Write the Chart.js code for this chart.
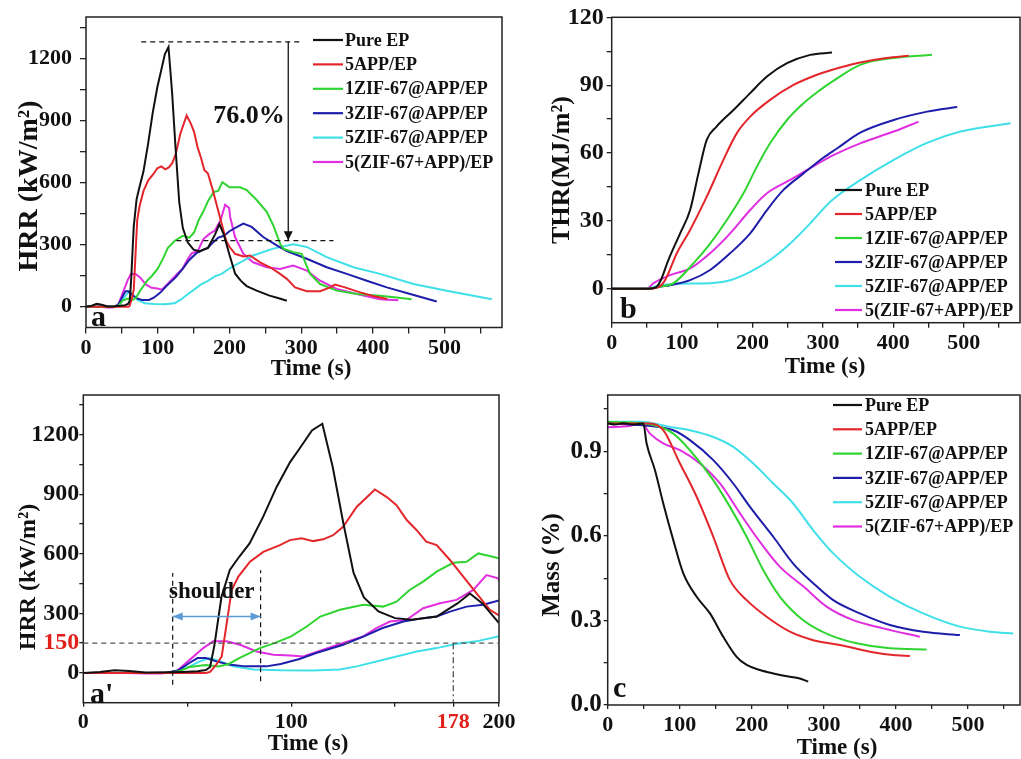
<!DOCTYPE html>
<html><head><meta charset="utf-8">
<script src="https://cdn.jsdelivr.net/npm/chart.js@4.4.1/dist/chart.umd.min.js"></script>
<style>
html,body{margin:0;padding:0;background:#fff;overflow:hidden;width:1021px;height:759px}
canvas{position:absolute}
</style></head><body>
<canvas id="cA" width="515" height="380" style="left:0;top:0"></canvas>
<canvas id="cB" width="506" height="380" style="left:515px;top:0"></canvas>
<canvas id="cA2" width="515" height="379" style="left:0;top:380px"></canvas>
<canvas id="cC" width="506" height="379" style="left:515px;top:380px"></canvas>
<script>
// ---------- series ----------
const seriesNames = ['Pure EP','5APP/EP','1ZIF-67@APP/EP','3ZIF-67@APP/EP','5ZIF-67@APP/EP','5(ZIF-67+APP)/EP'];
const seriesColors = ['#111111','#e3262b','#30d430','#1e1eaa','#3fe0e8','#e02ee0'];

// HRR (kW/m2) vs time (s)
const hrrPureEP = [[0,0],[8,5],[15,14],[22,10],[30,2],[40,3],[48,5],[55,8],[59,15],[61,30],[63,134],[66.5,385],[70.5,519],[75,585],[80,652],[86.5,786],[93,937],[99.5,1062],[104,1129],[110,1221],[115,1255],[120,1037],[125,760],[130,505],[135,380],[142,310],[150,276],[158,268],[170,284],[180,350],[186,400],[192,350],[200,251],[208,160],[216,125],[224,100],[238,78],[256,54],[270,40],[280,29]];
const hrr5APP = [[0,0],[20,0],[40,0],[50,0],[59,0],[61,5],[64,42],[66.6,83],[69,251],[71.4,418],[74.6,485],[80.2,560],[86.6,610],[94.6,644],[99.4,669],[105,678],[110.6,664],[115.4,673],[120.2,694],[125,736],[131.5,836],[140.3,924],[146,886],[150.7,845],[155.6,770],[160.4,719],[165,661],[170,644],[176.4,569],[182.8,485],[189.2,401],[195.6,318],[200,290],[207.8,256],[219.4,243],[228.7,248],[242.7,215],[256.6,191],[270.6,159],[280,135],[291.5,94],[307.8,75],[326.4,75],[340.3,94],[347,107],[360,95],[380,72],[400,52],[420,38]];
const hrr1ZIF = [[0,0],[20,0],[40,0],[46,8],[51,30],[59,40],[65,33],[70,45],[75,75],[85,125],[92,150],[100,184],[107.5,234],[114,284],[123.5,318],[134.7,343],[144.3,334],[150.7,359],[157,418],[163.5,460],[170,510],[178,555],[184.4,560],[190,602],[195,590],[200,577],[214.8,577],[224,564],[238,516],[252,459],[261,394],[270.6,305],[275,281],[289,264],[300.8,256],[312.4,159],[326.4,110],[349.7,78],[377.6,62],[410,53],[433,45],[454,37]];
const hrr3ZIF = [[0,0],[20,0],[40,0],[46,15],[51,50],[55,75],[59,75],[64,58],[70,42],[78,33],[88,33],[95,45],[104,70],[112,100],[125,142],[135,184],[144,226],[154,259],[163.5,276],[170,284],[176.4,309],[184.4,334],[192.4,343],[200,365],[210,385],[219.4,402],[231,386],[247,337],[266,297],[280,269],[307.8,232],[335.6,191],[363.6,159],[391.5,126],[419.4,94],[452,62],[489,26]];
const hrr5ZIF = [[0,0],[20,0],[40,0],[46,10],[51.3,33],[56,58],[61,75],[66,58],[72,33],[82,17],[95,13],[110,12],[123.5,17],[131.5,33],[141,58],[150.7,83],[160.4,108],[170,125],[179.6,147],[189.2,159],[200,185],[210,205],[233,248],[261,281],[289,302],[307.8,289],[335.6,240],[372.8,191],[410,159],[456.5,110],[503,78],[540,53],[565.8,37]];
const hrrMix = [[0,0],[20,0],[30,-3],[38,-3],[45,10],[51.3,67],[57.7,125],[62.5,159],[69,159],[75.4,142],[83.4,108],[91.4,92],[99.4,88],[105.8,83],[115.4,117],[125,151],[134.7,184],[141,226],[147.5,259],[155.6,268],[163.5,326],[171.6,351],[179.6,368],[187.6,418],[194,493],[199.6,477],[201,434],[207.8,337],[219.4,256],[233,215],[252,191],[270.6,183],[289,199],[307.8,175],[326.4,126],[349.7,86],[377.6,62],[410,37],[435.5,32]];

// THR (MJ/m2) vs time (s)
const thrPureEP = [[0,0],[50,0],[62,0.5],[68.7,3.1],[80.5,12.7],[97.2,24.5],[111.4,34.8],[123.2,51],[135,65.8],[149,71.7],[173,79],[196.7,86.5],[220.5,93.8],[249,99.7],[282,103.4],[313,104.4]];
const thr5APP = [[0,0],[50,0],[65,0.5],[75.8,3.8],[92.5,15.7],[111.4,26],[135,40.7],[158.7,57],[177.8,68.8],[196.7,76.1],[225,83.5],[258.3,90.1],[291.6,94.6],[310,96.5],[353,100],[390,102],[422,103]];
const thr1ZIF = [[0,0],[50,0],[70,1],[87.6,2.4],[116,11.2],[139.8,20],[163.6,30.4],[187.2,42.2],[206.3,54],[225,64.3],[249,74.6],[272.5,82],[296.3,87.9],[310.5,91],[353,99],[400.6,102],[455,103.4]];
const thr3ZIF = [[0,0],[50,0],[70,1],[83,1.6],[111.4,3.8],[139.8,8.3],[168.3,15.7],[196.7,24.5],[220.5,34.8],[244,43.7],[272.5,51],[301,58],[320,62],[353,69],[400.6,74.6],[448,78.3],[490.8,80.3]];
const thr5ZIF = [[0,0],[50,0],[62,1],[92.5,2.2],[139.8,2.4],[168.3,3.8],[196.7,7.5],[225,12.7],[253.6,20],[282,28.9],[310.5,38.5],[353,48],[400.6,57],[448,64.5],[495.4,69.5],[566.6,73.2]];
const thrMix = [[0,0],[50,0],[59,2.4],[83,6],[111.4,9],[139.8,15.7],[168.3,24.5],[196.7,34.8],[220.5,42.2],[253.6,48.1],[282,53.3],[310.5,58.4],[353,64.3],[400.6,69.5],[436,73.9]];

// Mass (fraction) vs time (s)
const massPureEP = [[0,1.0],[10,0.995],[21.7,1.0],[35,0.995],[49.4,0.999],[54,0.928],[65.6,0.833],[77.1,0.715],[91,0.585],[104.9,0.467],[123.4,0.384],[141.9,0.325],[160.3,0.242],[178.9,0.171],[192.8,0.142],[211.2,0.124],[229.7,0.112],[252.8,0.1],[265,0.095],[278.2,0.083]];
const mass5APP = [[0,0.999],[58.7,0.999],[77.1,0.975],[100.3,0.857],[123.4,0.739],[146.5,0.597],[169.6,0.443],[192.8,0.372],[220.5,0.313],[252.8,0.26],[285.2,0.23],[322.2,0.213],[363.8,0.189],[396.1,0.177],[419.3,0.174]];
const mass1ZIF = [[0,1.005],[60,0.995],[91,0.963],[114.1,0.904],[146.5,0.798],[169.6,0.703],[192.8,0.597],[215.8,0.479],[239,0.384],[271.3,0.301],[308.3,0.248],[345.4,0.219],[391.5,0.201],[442.4,0.197]];
const mass3ZIF = [[0,1.0],[60,0.99],[91,0.975],[114.1,0.94],[146.5,0.869],[174.2,0.786],[197.4,0.703],[229.7,0.597],[257.3,0.502],[285.2,0.432],[312.9,0.372],[349.9,0.325],[391.5,0.284],[437.7,0.26],[488.6,0.248]];
const mass5ZIF = [[0,1.005],[44.8,1.005],[91,0.985],[114.1,0.975],[146.5,0.951],[174.2,0.916],[202,0.857],[229.7,0.786],[257.3,0.715],[285.2,0.62],[312.9,0.538],[349.9,0.455],[391.5,0.384],[437.7,0.325],[488.6,0.278],[530.2,0.26],[562.6,0.254]];
const massMix = [[0,0.986],[30,0.99],[46.7,1.0],[58.7,0.963],[77.1,0.928],[100.3,0.904],[128,0.857],[155.8,0.786],[183.5,0.68],[211.2,0.579],[239,0.49],[271.3,0.421],[303.7,0.349],[340.6,0.301],[382.2,0.272],[433.1,0.242]];

// ---------- ticks ----------
const hrrTicks = [0,150,300,450,600,750,900,1050,1200,1350];
const hrrMajor = [0,300,600,900,1200];
const hrrZoomMajor = [0,150,300,600,900,1200];
const timeTicks = [0,50,100,150,200,250,300,350,400,450,500,550];
const timeMajor = [0,100,200,300,400,500];
const timeZoomTicks = [0,50,100,150,178,200];
const timeZoomMajor = [0,100,178,200];
const thrTicks = [0,15,30,45,60,75,90,105,120];
const thrMajor = [0,30,60,90,120];
const massTicks = [0,0.15,0.3,0.45,0.6,0.75,0.9,1.05];
const massMajor = [0,0.3,0.6,0.9];
const highlightHRR = 150, highlightTime = 178;

const FONT = '"Liberation Serif", "Times New Roman", serif';
const RED = '#e0201b';

function sets(list, tension){
  return list.map((d,i)=>({label:seriesNames[i], data:d, borderColor:seriesColors[i], backgroundColor:seriesColors[i],
    borderWidth:2, pointRadius:0, tension:tension||0, cubicInterpolationMode: tension? 'monotone':'default'}));
}

function axis(min,max,ticks,major,o){
  return {
    type:'linear', min:min, max:max,
    afterBuildTicks: s => { s.ticks = ticks.map(v=>({value:v})); },
    afterFit: s => { if(o.w!=null) s.width=o.w; if(o.h!=null) s.height=o.h; s.paddingLeft=0; s.paddingRight=0; s.paddingTop=0; s.paddingBottom=0; },
    grid:{drawOnChartArea:false, drawTicks:true, tickLength:o.tl, color:'#222', lineWidth:1.3},
    border:{display:false},
    ticks:{autoSkip:false, maxRotation:0, minRotation:0, padding:o.pad,
      color: c => (o.hl!=null && c.tick && c.tick.value===o.hl) ? RED : '#111',
      font:{family:FONT, weight:'bold', size:o.fs},
      callback: v => major.includes(v) ? (o.fmt? o.fmt(v) : String(v)) : ''}
  };
}

const framePlugin = {id:'frame', afterDatasetsDraw(chart){
  const {ctx, chartArea:a} = chart; ctx.save(); ctx.strokeStyle='#222'; ctx.lineWidth=1.5;
  ctx.strokeRect(a.left,a.top,a.right-a.left,a.bottom-a.top); ctx.restore(); }};

function head(ctx,x1,y1,x2,y2,hl,hw){
  const ang=Math.atan2(y2-y1,x2-x1);
  ctx.save(); ctx.translate(x2,y2); ctx.rotate(ang); ctx.setLineDash([]);
  ctx.beginPath(); ctx.moveTo(0,0); ctx.lineTo(-hl,-hw); ctx.lineTo(-hl,hw); ctx.closePath(); ctx.fill(); ctx.restore();
}
const annPlugin = {id:'ann', afterDatasetsDraw(chart,args,o){
  const ctx=chart.ctx, sx=chart.scales.x, sy=chart.scales.y;
  (o.lines||[]).forEach(l=>{
    const x1=sx.getPixelForValue(l.x1), y1=sy.getPixelForValue(l.y1), x2=sx.getPixelForValue(l.x2), y2=sy.getPixelForValue(l.y2);
    ctx.save(); ctx.strokeStyle=l.color||'#111'; ctx.fillStyle=l.color||'#111'; ctx.lineWidth=l.w||1.2;
    ctx.setLineDash(l.dash||[]); ctx.beginPath(); ctx.moveTo(x1,y1); ctx.lineTo(x2,y2); ctx.stroke();
    if(l.head==='end'||l.head==='both') head(ctx,x1,y1,x2,y2,l.hl||9,l.hw||4.5);
    if(l.head==='both') head(ctx,x2,y2,x1,y1,l.hl||9,l.hw||4.5);
    ctx.restore();
  });
}};
const txtPlugin = {id:'txt', afterDraw(chart,args,o){
  const ctx=chart.ctx, sx=chart.scales.x, sy=chart.scales.y;
  (o.items||[]).forEach(it=>{
    let x=it.x, y=it.y;
    if(it.data){ x=sx.getPixelForValue(it.x); y=sy.getPixelForValue(it.y); }
    ctx.save(); ctx.font='bold '+it.size+'px '+FONT; ctx.fillStyle=it.color||'#111';
    ctx.textAlign=it.align||'center'; ctx.textBaseline=it.base||'middle';
    ctx.translate(x,y); if(it.rot) ctx.rotate(it.rot*Math.PI/180); ctx.fillText(it.t,0,0); ctx.restore();
  });
}};
const legPlugin = {id:'leg', afterDraw(chart,args,o){
  if(o.x==null) return;
  const ctx=chart.ctx; ctx.save(); ctx.font='bold 18px '+FONT; ctx.textBaseline='middle'; ctx.textAlign='left';
  chart.data.datasets.forEach((ds,i)=>{
    const y=o.y+i*o.dy;
    ctx.strokeStyle=ds.borderColor; ctx.lineWidth=2.2; ctx.beginPath(); ctx.moveTo(o.x,y); ctx.lineTo(o.x+o.len,y); ctx.stroke();
    ctx.fillStyle='#111'; ctx.fillText(ds.label,o.x+o.len+o.gap,y+1);
  });
  ctx.restore();
}};

function make(id, datasets, scales, pad, pl){
  return new Chart(document.getElementById(id), {
    type:'line', data:{datasets:datasets},
    options:{responsive:false, animation:false, devicePixelRatio:1, parsing:true,
      layout:{padding:pad}, scales:scales,
      plugins:Object.assign({legend:{display:false}, tooltip:{enabled:false}}, pl)},
    plugins:[framePlugin, annPlugin, txtPlugin, legPlugin]
  });
}

// Panel a
make('cA', sets([hrrPureEP,hrr5APP,hrr1ZIF,hrr3ZIF,hrr5ZIF,hrrMix]),
  {x:axis(0,580,timeTicks,timeMajor,{h:52.5,tl:6,pad:2,fs:22}),
   y:axis(-100,1400,hrrTicks,hrrMajor,{w:86,tl:6,pad:8,fs:22})},
  {top:17,right:13,left:0,bottom:0},
  {ann:{lines:[
     {x1:77,y1:1280,x2:298,y2:1280,dash:[5,4],w:1.3},
     {x1:282,y1:1280,x2:282,y2:322,w:1.3,head:'end',hl:9,hw:4.5},
     {x1:126,y1:320,x2:345,y2:320,dash:[5,4],w:1.3}]},
   txt:{items:[
     {t:'76.0%',x:177.5,y:889,data:true,size:26,align:'left',base:'alphabetic'},
     {t:'a',x:91,y:326,size:30,align:'left',base:'alphabetic'},
     {t:'HRR (kW/m²)',x:30,y:186,size:28,rot:-90},
     {t:'Time (s)',x:311,y:369,size:23}]},
   leg:{x:313,y:40,dy:24.4,len:30,gap:2}});

// Panel b
make('cB', sets([thrPureEP,thr5APP,thr1ZIF,thr3ZIF,thr5ZIF,thrMix],0.4),
  {x:axis(0,580,timeTicks,timeMajor,{h:57.3,tl:5,pad:2,fs:22}),
   y:axis(-15,120,thrTicks,thrMajor,{w:96.7,tl:5,pad:3,fs:24})},
  {top:17.3,right:1,left:0,bottom:0},
  {txt:{items:[
     {t:'b',x:105,y:318,size:30,align:'left',base:'alphabetic'},
     {t:'THR(MJ/m²)',x:47,y:170,size:26,rot:-90},
     {t:'Time (s)',x:310,y:367,size:23}]},
   leg:{x:320,y:190,dy:24,len:27,gap:3}});

// Panel a'
make('cA2', sets([hrrPureEP,hrr5APP,hrr1ZIF,hrr3ZIF,hrr5ZIF,hrrMix]),
  {x:axis(0,200,timeZoomTicks,timeZoomMajor,{h:56.3,tl:4,pad:2,fs:22,hl:highlightTime}),
   y:axis(-150,1400,hrrTicks,hrrZoomMajor,{w:83.3,tl:4,pad:0,fs:24,hl:highlightHRR})},
  {top:15,right:16,left:0,bottom:0},
  {ann:{lines:[
     {x1:43,y1:-59,x2:43,y2:503,dash:[5,4],w:1.2},
     {x1:85.3,y1:-42,x2:85.3,y2:517,dash:[5,4],w:1.2},
     {x1:0,y1:highlightHRR,x2:200,y2:highlightHRR,dash:[5,4],w:1.2,color:'#555'},
     {x1:highlightTime,y1:highlightHRR,x2:highlightTime,y2:-150,dash:[6,3,2,3],w:1.2,color:'#444'},
     {x1:43,y1:284,x2:85.3,y2:284,w:1.5,color:'#5b9bd5',head:'both',hl:10,hw:4}]},
   txt:{items:[
     {t:'shoulder',x:61.8,y:376,data:true,size:23,align:'center',base:'alphabetic'},
     {t:"a'",x:90,y:323,size:30,align:'left',base:'alphabetic'},
     {t:'HRR (kW/m²)',x:29,y:197,size:24,rot:-90},
     {t:'Time (s)',x:308,y:364,size:23}]}});

// Panel c
make('cC', sets([massPureEP,mass5APP,mass1ZIF,mass3ZIF,mass5ZIF,massMix],0.4),
  {x:axis(0,572,timeTicks,timeMajor,{h:54,tl:4,pad:3,fs:22}),
   y:axis(0,1.1,massTicks,massMajor,{w:92.7,tl:4,pad:2,fs:25,fmt:v=>v.toFixed(1)})},
  {top:15,right:1,left:0,bottom:0},
  {txt:{items:[
     {t:'c',x:98,y:316.7,size:30,align:'left',base:'alphabetic'},
     {t:'Mass (%)',x:37.5,y:185,size:25,rot:-90},
     {t:'Time (s)',x:322,y:368,size:23}]},
   leg:{x:318,y:25,dy:24.3,len:29,gap:3}});
</script>
</body></html>
